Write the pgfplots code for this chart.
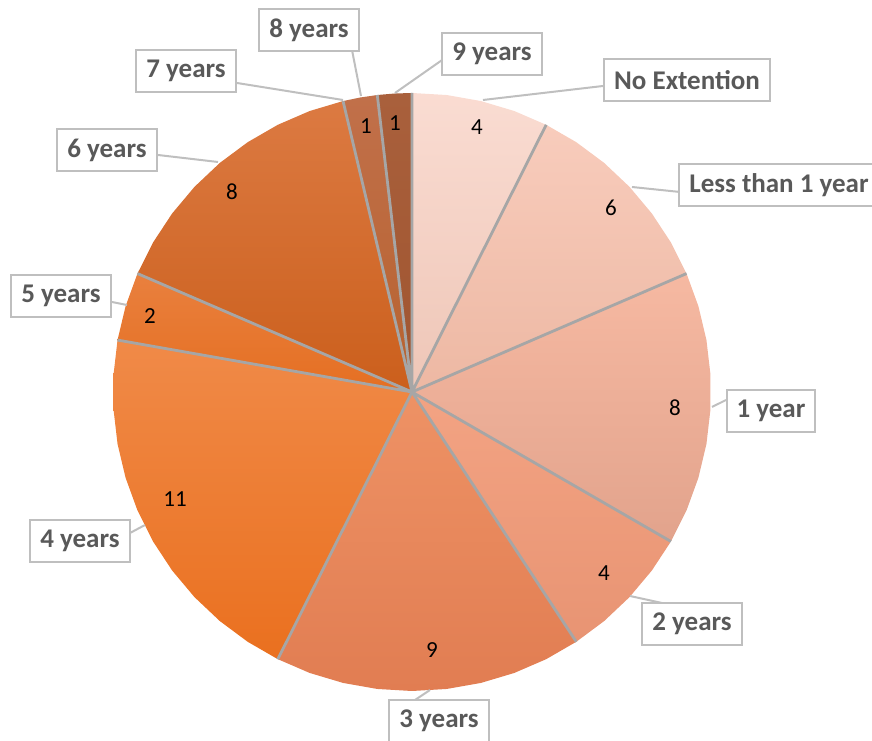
\documentclass[border=0pt]{standalone}
\usepackage{pgfplots}
\pgfplotsset{compat=1.18}
\usepackage{pgfplotstable}
\usepgfplotslibrary{polar}
\usepackage{fontspec}
\setmainfont{Carlito}

\definecolor{labelgray}{HTML}{595959}
\definecolor{boxgray}{HTML}{BFBFBF}
\definecolor{radgray}{HTML}{A6A6A6}

% values of the slices (7 years = 0)
\pgfplotstableread[col sep=comma]{
px,py,value
477,127,4
611,208,6
675,408,8
604,573,4
432,650,9
175,499,11
150,316,2
232,192,8
366,126,1
395,123,1
}\valuelabels

\pgfplotstableread[col sep=comma]{
px,py,label
687,80,No Extention
779,185,Less than 1 year
771,411,1 year
692,624,2 years
439,721,3 years
80,541,4 years
61,296,5 years
107,150,6 years
186,71,7 years
309,30,8 years
492,54,9 years
}\catlabels

\pgfplotsset{
  px/.style={x filter/.expression={(x-412)/299}, y filter/.expression={(392-y)/299}},
  leader/.style={px, draw=boxgray, line width=1pt},
}

\begin{document}
\begin{tikzpicture}
\begin{axis}[
  name=ax,
  scale only axis,
  width=436pt, height=370pt,
  xmin=-1.3779, xmax=1.5385,
  ymin=-1.1639, ymax=1.3110,
  hide axis,
  clip=false,
]
% No Extention (4)
\addplot[draw=none, data cs=polar, top color={rgb,255:red,250;green,220;blue,210}, bottom color={rgb,255:red,238;green,198;blue,183}]
  coordinates {(0,0) (90,1) (83.333,1) (76.667,1) (70,1) (63.333,1)};
% Less than 1 year (6)
\addplot[draw=none, data cs=polar, top color={rgb,255:red,248;green,204;blue,188}, bottom color={rgb,255:red,237;green,184;blue,163}]
  coordinates {(0,0) (63.333,1) (56.667,1) (50,1) (43.333,1) (36.667,1) (30,1) (23.333,1)};
% 1 year (8)
\addplot[draw=none, data cs=polar, top color={rgb,255:red,246;green,185;blue,162}, bottom color={rgb,255:red,226;green,163;blue,140}]
  coordinates {(0,0) (23.333,1) (16.667,1) (10,1) (3.333,1) (-3.333,1) (-10,1) (-16.667,1) (-23.333,1) (-30,1)};
% 2 years (4)
\addplot[draw=none, data cs=polar, top color={rgb,255:red,243;green,163;blue,131}, bottom color={rgb,255:red,232;green,148;blue,115}]
  coordinates {(0,0) (-30,1) (-36.667,1) (-43.333,1) (-50,1) (-56.667,1)};
% 3 years (9)
\addplot[draw=none, data cs=polar, top color={rgb,255:red,238;green,146;blue,101}, bottom color={rgb,255:red,225;green,125;blue,82}]
  coordinates {(0,0) (-56.667,1) (-63.333,1) (-70,1) (-76.667,1) (-83.333,1) (-90,1) (-96.667,1) (-103.333,1) (-110,1) (-116.667,1)};
% 4 years (11)
\addplot[draw=none, data cs=polar, top color={rgb,255:red,240;green,138;blue,72}, bottom color={rgb,255:red,234;green,112;blue,31}]
  coordinates {(0,0) (-116.667,1) (-123.333,1) (-130,1) (-136.667,1) (-143.333,1) (-150,1) (-156.667,1) (-163.333,1) (-170,1) (-176.667,1) (-183.333,1) (-190,1)};
% 5 years (2)
\addplot[draw=none, data cs=polar, top color={rgb,255:red,233;green,128;blue,62}, bottom color={rgb,255:red,229;green,111;blue,34}]
  coordinates {(0,0) (-190,1) (-196.667,1) (-203.333,1)};
% 6 years (8)
\addplot[draw=none, data cs=polar, top color={rgb,255:red,220;green,122;blue,66}, bottom color={rgb,255:red,203;green,95;blue,28}]
  coordinates {(0,0) (-203.333,1) (-210,1) (-216.667,1) (-223.333,1) (-230,1) (-236.667,1) (-243.333,1) (-250,1) (-256.667,1)};
% 8 years (1)
\addplot[draw=none, data cs=polar, top color={rgb,255:red,193;green,112;blue,74}, bottom color={rgb,255:red,183;green,98;blue,47}]
  coordinates {(0,0) (-256.667,1) (-260,1) (-263.333,1)};
% 9 years (1)
\addplot[draw=none, data cs=polar, top color={rgb,255:red,169;green,96;blue,60}, bottom color={rgb,255:red,160;green,85;blue,48}]
  coordinates {(0,0) (-263.333,1) (-266.667,1) (-270,1)};
% slice borders
\addplot[data cs=polar, draw=radgray, line width=1.4pt, line join=bevel]
  coordinates {(0,0) (90,1) (0,0) (63.333,1) (0,0) (23.333,1) (0,0) (-30,1) (0,0) (-56.667,1) (0,0) (-116.667,1) (0,0) (-190,1) (0,0) (-203.333,1) (0,0) (-256.667,1) (0,0) (-263.333,1)};

% value labels
\addplot[px, draw=none, mark=none, nodes near coords, point meta=explicit symbolic,
  every node near coord/.append style={anchor=center, text=black, font=\fontsize{11.5}{13}\selectfont}]
  table[x=px, y=py, meta=value] {\valuelabels};

% leader lines
\addplot[leader] coordinates {(483,100) (603,86)};
\addplot[leader] coordinates {(632,187) (680,192)};
\addplot[leader] coordinates {(712,407) (726,400)};
\addplot[leader] coordinates {(630,596) (662,603)};
\addplot[leader] coordinates {(430,690) (415,700)};
\addplot[leader] coordinates {(145,525) (130,533)};
\addplot[leader] coordinates {(127,305) (112,302)};
\addplot[leader] coordinates {(218,162) (158,155)};
\addplot[leader] coordinates {(343,100) (237,83)};
\addplot[leader] coordinates {(361,96) (352,50)};
\addplot[leader] coordinates {(395,93) (445,58)};

% category callouts
\addplot[px, draw=none, mark=none, nodes near coords, point meta=explicit symbolic,
  every node near coord/.append style={anchor=center, draw=boxgray, line width=1pt, fill=white,
    text=labelgray, font=\fontsize{13.5}{16}\selectfont\bfseries,
    minimum height=21pt, inner xsep=5pt}]
  table[x=px, y=py, meta=label] {\catlabels};
\end{axis}
\pgfresetboundingbox
\path[use as bounding box] (ax.south west) rectangle (ax.north east);
\end{tikzpicture}
\end{document}
